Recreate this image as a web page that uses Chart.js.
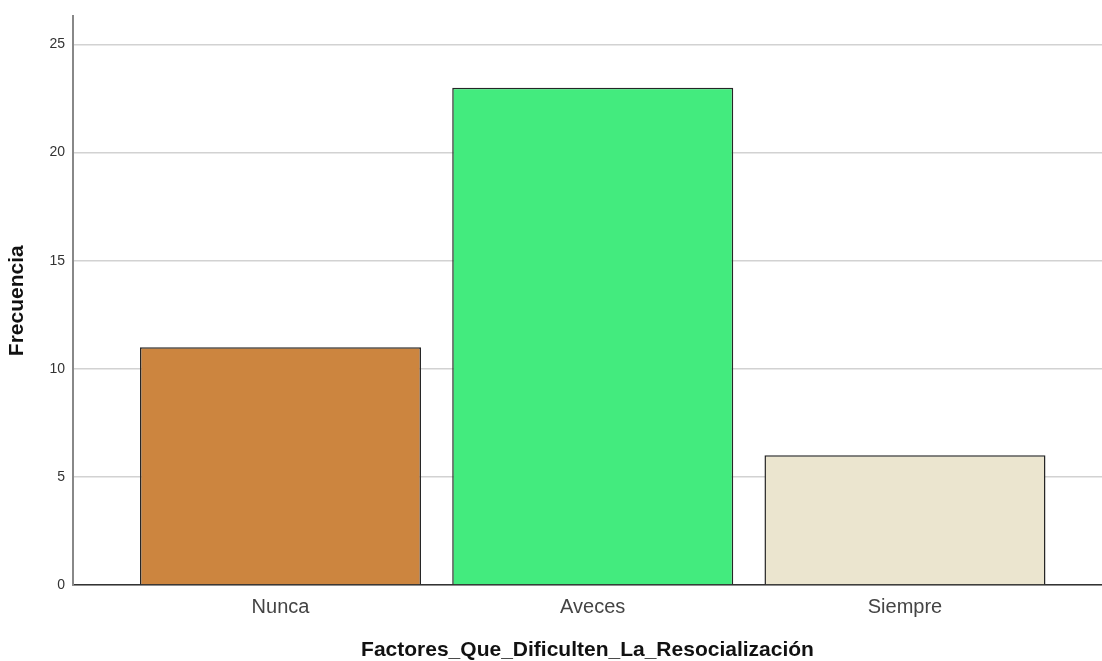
<!DOCTYPE html>
<html>
<head>
<meta charset="utf-8">
<script src="https://cdn.jsdelivr.net/npm/chart.js@4/dist/chart.umd.min.js"></script>
<style>
  html, body { margin: 0; padding: 0; background: #fff; }
  #wrap { width: 1102px; height: 661px; }
</style>
</head>
<body>
<div id="wrap"><canvas id="barChart" width="1102" height="661"></canvas></div>
<script>
const categories = ['Nunca', 'Aveces', 'Siempre'];
const frecuencias = [11, 23, 6];
const barColors = ['#cc853f', '#43eb7e', '#ebe5cf'];
const yTicks = [0, 5, 10, 15, 20, 25];

const FONT = '"Liberation Sans", Arial, sans-serif';

const ctx = document.getElementById('barChart').getContext('2d');

const points = categories.map((c, i) => ({ x: i + 1, y: frecuencias[i] }));

const chart = new Chart(ctx, {
  type: 'bar',
  data: {
    datasets: [
      {
        data: points,
        backgroundColor: barColors,
        borderColor: '#262626',
        borderWidth: 1.5,
        barPercentage: 0.9,
        categoryPercentage: 1.0,
      },
    ],
  },
  options: {
    responsive: false,
    animation: false,
    layout: {
      padding: { top: 14, right: 0, bottom: 0, left: 0 },
    },
    plugins: {
      legend: { display: false },
      tooltip: { enabled: false },
    },
    scales: {
      x: {
        type: 'linear',
        offset: false,
        min: 0.3355,
        max: 3.631,
        afterFit: (s) => { s.height = 76; },
        grid: { display: false, drawTicks: false },
        border: { color: '#333', width: 1.5 },
        ticks: {
          stepSize: 1,
          includeBounds: false,
          padding: 10,
          color: '#444',
          font: { family: FONT, size: 20 },
          callback: (v) => (Number.isInteger(v) ? categories[v - 1] || '' : ''),
        },
        title: {
          display: true,
          text: 'Factores_Que_Dificulten_La_Resocialización',
          color: '#111',
          padding: { top: 0, bottom: 0 },
          font: { family: FONT, size: 21, weight: 'bold', lineHeight: 1 },
        },
      },
      y: {
        min: 0,
        max: 26.3,
        afterFit: (s) => { s.width = 73; },
        afterBuildTicks: (s) => { s.ticks = yTicks.map((v) => ({ value: v })); },
        grid: { color: '#d2d2d2', lineWidth: 1.5, drawTicks: false },
        border: { color: '#888', width: 2 },
        ticks: {
          padding: 8,
          color: '#333',
          font: { family: FONT, size: 14 },
        },
        title: {
          display: true,
          text: 'Frecuencia',
          color: '#111',
          padding: { top: 7, bottom: 0 },
          font: { family: FONT, size: 21, weight: 'bold', lineHeight: 1 },
        },
      },
    },
  },
});
</script>
</body>
</html>
